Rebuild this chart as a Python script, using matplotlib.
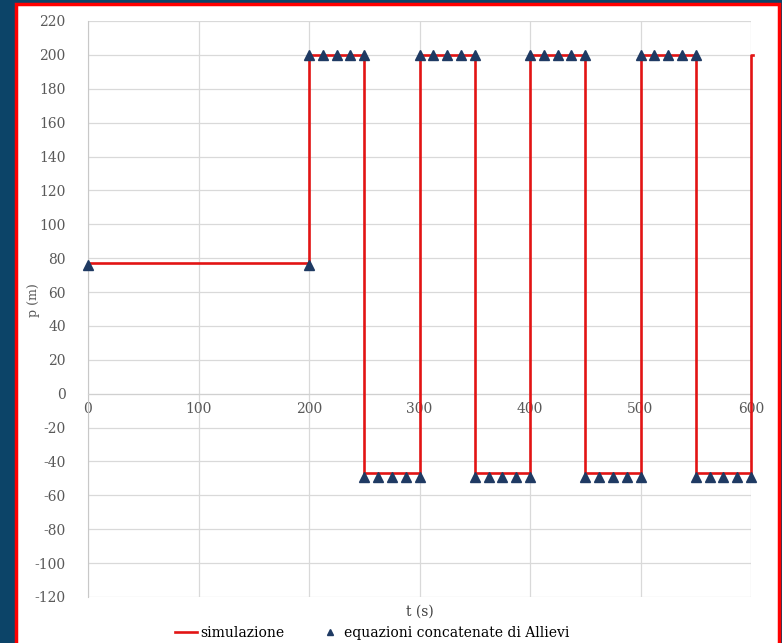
import matplotlib
matplotlib.use("Agg")
from matplotlib import pyplot as plt
from matplotlib.patches import Rectangle

# simulazione: step signal (t in s, p in m)
t_sim = [0, 200, 200, 250, 250, 300, 300, 350, 350, 400, 400, 450, 450, 500, 500, 550, 550, 600, 600, 602]
p_sim = [77, 77, 200, 200, -47, -47, 200, 200, -47, -47, 200, 200, -47, -47, 200, 200, -47, -47, 200, 200]

# equazioni concatenate di Allievi
t_all = [0, 200,
         200, 212.5, 225, 237.5, 250,
         250, 262.5, 275, 287.5, 300,
         300, 312.5, 325, 337.5, 350,
         350, 362.5, 375, 387.5, 400,
         400, 412.5, 425, 437.5, 450,
         450, 462.5, 475, 487.5, 500,
         500, 512.5, 525, 537.5, 550,
         550, 562.5, 575, 587.5, 600]
p_all = [76, 76,
         200, 200, 200, 200, 200,
         -49, -49, -49, -49, -49,
         200, 200, 200, 200, 200,
         -49, -49, -49, -49, -49,
         200, 200, 200, 200, 200,
         -49, -49, -49, -49, -49,
         200, 200, 200, 200, 200,
         -49, -49, -49, -49, -49]

x_ticks = [0, 100, 200, 300, 400, 500, 600]
y_ticks = list(range(-120, 221, 20))

plt.rcParams["font.family"] = ["DejaVu Serif"]
plt.rcParams["axes.unicode_minus"] = False

fig = plt.figure(figsize=(7.82, 6.43), dpi=100, facecolor="#0c4468")
fig.patches.append(Rectangle((16 / 782, -0.05), (779 - 16) / 782, 1 - 4 / 643 + 0.05,
                             transform=fig.transFigure, facecolor="white",
                             edgecolor="#ff0000", linewidth=2.5, zorder=-5))

ax = fig.add_axes([88 / 782, 1 - 597 / 643, (751 - 88) / 782, (597 - 21) / 643])
ax.set_zorder(2)
ax.set_facecolor("white")
ax.set_axisbelow(True)

ax.plot(t_sim, p_sim, color="#e21414", linewidth=1.9, label="simulazione", zorder=3, clip_on=False)
ax.plot(t_all, p_all, linestyle="none", marker="^", markersize=6.5, color="#1f3a63",
        label="equazioni concatenate di Allievi", zorder=4, clip_on=False)

ax.set_xlim(0, 600)
ax.set_ylim(-120, 220)
ax.set_xticks(x_ticks)
ax.set_yticks(y_ticks)
ax.grid(True, color="#d9d9d9", linewidth=0.9)

for side in ["top", "right"]:
    ax.spines[side].set_visible(False)
ax.spines["bottom"].set_position(("data", 0))
ax.spines["bottom"].set_color("#d0d0d0")
ax.spines["left"].set_color("#c8c8c8")
ax.tick_params(length=0, labelcolor="#595959", labelsize=10)
ax.tick_params(axis="x", pad=6)
ax.tick_params(axis="y", pad=16)

fig.text(420 / 782, 1 - 612 / 643, "t (s)", ha="center", va="center", fontsize=10, color="#404040")
fig.text(34 / 782, 1 - 300 / 643, "p (m)", ha="center", va="center", rotation=90, fontsize=9, color="#595959")

fig.legend(loc="center", bbox_to_anchor=(372 / 782, 1 - 633 / 643), ncol=2, frameon=False,
           fontsize=10, handlelength=1.6, handletextpad=0.2, columnspacing=2.5, markerscale=0.75)

fig.savefig("out.png", dpi=100, facecolor=fig.get_facecolor())
